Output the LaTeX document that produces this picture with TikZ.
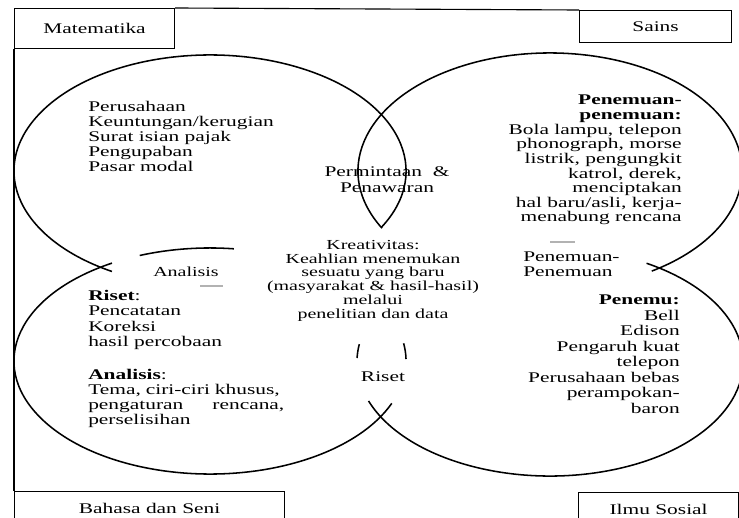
\documentclass[tikz,border=0pt]{standalone}
\usepackage{fontspec}
\setmainfont{Liberation Serif}[FakeStretch=1.45]
\usetikzlibrary{calc}

\begin{document}
\begin{tikzpicture}[
  x=0.025cm, y=0.025cm,
  subjbox/.style={draw, line width=0.8pt, inner sep=0pt, anchor=north west,
    font=\fontsize{10.5}{10.7}\selectfont},
  txt/.style={inner sep=0pt, font=\fontsize{10.5}{10.7}\selectfont},
  smalltxt/.style={inner sep=0pt, font=\fontsize{9.8}{9.8}\selectfont},
  ring/.style={line width=1.1pt},
  frame/.style={line width=0.8pt},
  dash line/.style={line width=0.8pt, gray!60},
]
\path[use as bounding box] (0,0) rectangle (739,-518);
\clip (0,0) rectangle (739,-518);

% Subject boxes
\node[subjbox, minimum width=4cm, minimum height=1cm] (mat) at (14,-8) {Matematika};
\node[subjbox, minimum width=3.8cm, minimum height=0.8cm] (sains) at (579,-10) {Sains};
\node[subjbox, minimum width=6.75cm, minimum height=0.85cm] (bahasa) at (14,-491) {Bahasa dan Seni};
\node[subjbox, minimum width=4cm, minimum height=0.85cm] (ilmu) at (578,-492) {Ilmu Sosial};

% Frame
\draw[frame] (mat.south west) -- (bahasa.north west);
\draw[frame] (mat.north east) -- (sains.north west);

% Rings
\coordinate (c1) at (210,-171);
\coordinate (c2) at (550,-171);
\coordinate (c3) at (210,-361);
\coordinate (c4) at (550,-362);
\draw[ring] ($(c1)+(-29:4.9cm and 2.9cm)$) arc[start angle=-29, end angle=240, x radius=4.9cm, y radius=2.9cm];
\draw[ring] ($(c2)+(-58:4.8cm and 2.95cm)$) arc[start angle=-58, end angle=209, x radius=4.8cm, y radius=2.95cm];
\draw[ring] ($(c3)+(120:4.9cm and 2.825cm)$) arc[start angle=120, end angle=338, x radius=4.9cm, y radius=2.825cm];
\draw[ring] ($(c3)+(83:4.9cm and 2.825cm)$) arc[start angle=83, end angle=111, x radius=4.9cm, y radius=2.825cm];
\draw[ring] ($(c3)+(1:4.9cm and 2.825cm)$) arc[start angle=1, end angle=9, x radius=4.9cm, y radius=2.825cm];
\draw[ring] ($(c4)+(200:4.825cm and 2.85cm)$) arc[start angle=200, end angle=420, x radius=4.825cm, y radius=2.85cm];
\draw[ring] ($(c4)+(171:4.825cm and 2.85cm)$) arc[start angle=171, end angle=178, x radius=4.825cm, y radius=2.85cm];

% Matematika
\node[txt, anchor=north west, align=left] (matlist) at (88,-101)
  {Perusahaan\\Keuntungan/kerugian\\Surat isian pajak\\Pengupaban\\Pasar modal};
\node[txt, align=center, font=\fontsize{10.5}{11.4}\selectfont] (pasar) at (387,-180)
  {Permintaan \ \&\\Penawaran};

% Sains
\node[txt, anchor=north east, align=right, font=\fontsize{10.5}{10.4}\selectfont] (sainslist) at (682,-95)
  {\textbf{Penemuan-}\\\textbf{penemuan:}\\Bola lampu, telepon\\phonograph, morse\\listrik, pengungkit\\katrol, derek,\\menciptakan\\hal baru/asli, kerja-\\menabung rencana};
\node[txt, anchor=north west, align=left] (penemuan) at (523,-252) {Penemuan-\\Penemuan};

% Tengah
\node[smalltxt, anchor=north, align=center] (kreatif) at (373,-240)
  {Kreativitas:\\Keahlian menemukan\\sesuatu yang baru\\(masyarakat \& hasil-hasil)\\melalui\\penelitian dan data};
\node[txt] (riset) at (383,-377) {Riset};
\node[smalltxt] (analisis) at (186,-272) {Analisis};

% Bahasa dan Seni
\node[txt, anchor=north west, align=left, font=\fontsize{10.5}{11}\selectfont] (risetlist) at (88,-290)
  {\textbf{Riset}:\\Pencatatan\\Koreksi\\hasil percobaan};
\node[txt, anchor=north west, align=left, text width=4.9cm] (analisislist) at (88,-369)
  {\textbf{Analisis}:\\Tema, ciri-ciri khusus,\\pengaturan\hfill rencana,\\perselisihan};

% Ilmu Sosial
\node[txt, anchor=north east, align=right, font=\fontsize{10.5}{11}\selectfont] (penemu) at (680,-295)
  {\textbf{Penemu:}\\Bell\\Edison\\Pengaruh kuat\\telepon\\Perusahaan bebas\\perampokan-\\baron};

% Short strokes
\draw[dash line] (200,-286) -- (223,-286);
\draw[dash line] (550,-242) -- (575,-242);
\end{tikzpicture}
\end{document}
